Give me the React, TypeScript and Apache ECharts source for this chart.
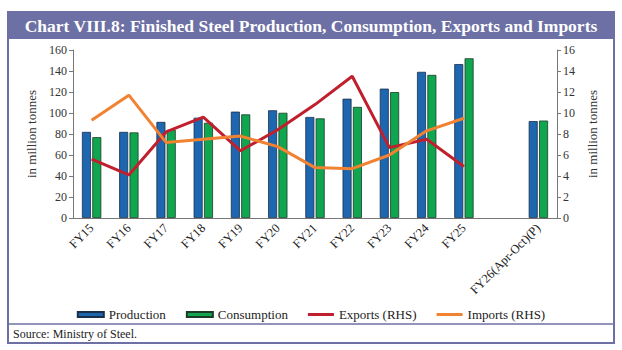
import React, { useEffect, useRef } from "react";
import * as echarts from "echarts";

const categories = ["FY15", "FY16", "FY17", "FY18", "FY19", "FY20", "FY21", "FY22", "FY23", "FY24", "FY25", "", "FY26(Apr-Oct)(P)"];
const production = [82, 82, 91.5, 95.5, 101.3, 102.6, 96.2, 113.6, 123.2, 139.2, 146.6, null, 92.3];
const consumption = [77, 81.5, 84, 90.7, 98.7, 100.2, 94.9, 105.8, 119.9, 136.3, 152.1, null, 92.8];
const exportsRhs = [5.6, 4.1, 8.2, 9.6, 6.4, 8.4, 10.8, 13.5, 6.7, 7.5, 4.9, null, null];
const importsRhs = [9.3, 11.7, 7.2, 7.5, 7.8, 6.8, 4.8, 4.7, 6.0, 8.3, 9.5, null, null];
const leftTicks = { min: 0, max: 160, interval: 20 };
const rightTicks = { min: 0, max: 16, interval: 2 };

const FONT = "'Liberation Serif', 'DejaVu Serif', serif";
const FRAME = "#6c70a4";
const LINE_ICON = "path://M0,0h26v0h-26z M0,1h26v3h-26z M0,5h26v0h-26z";

export default function App() {
  const ref = useRef<HTMLDivElement>(null);
  useEffect(() => {
    if (!ref.current) return;
    const chart = echarts.init(ref.current, null, { renderer: "svg" });
    chart.setOption({
      animation: false,
      textStyle: { fontFamily: FONT },
      graphic: [
        { type: "rect", shape: { x: 8, y: 12, width: 606, height: 331 }, style: { fill: "none", stroke: FRAME, lineWidth: 2 }, z: 10 },
        { type: "rect", shape: { x: 8, y: 12, width: 606, height: 27 }, style: { fill: FRAME }, z: 11 },
        { type: "line", shape: { x1: 8, y1: 324, x2: 614, y2: 324 }, style: { stroke: FRAME, lineWidth: 1.5 }, z: 10 },
        {
          type: "text", x: 311, y: 26, z: 12,
          style: { text: "Chart VIII.8: Finished Steel Production, Consumption, Exports and Imports", fill: "#ffffff", font: `bold 17.5px ${FONT}`, align: "center", verticalAlign: "middle" },
        },
        {
          type: "text", x: 13, y: 334, z: 12,
          style: { text: "Source: Ministry of Steel.", fill: "#222", font: `12px ${FONT}`, align: "left", verticalAlign: "middle" },
        },
      ],
      legend: {
        bottom: 24,
        left: "center",
        itemWidth: 26,
        itemHeight: 5,
        itemGap: 20,
        textStyle: { fontFamily: FONT, fontSize: 13, color: "#222" },
        data: [
          { name: "Production", icon: "rect" },
          { name: "Consumption", icon: "rect" },
          { name: "Exports (RHS)", icon: LINE_ICON },
          { name: "Imports (RHS)", icon: LINE_ICON },
        ],
      },
      grid: { left: 73, right: 65, top: 50, bottom: 132 },
      xAxis: {
        type: "category",
        data: categories,
        axisLine: { lineStyle: { color: "#777" } },
        axisTick: { show: false },
        axisLabel: { rotate: 45, interval: 0, fontFamily: FONT, fontSize: 12.5, color: "#222", margin: 8 },
      },
      yAxis: [
        {
          type: "value", ...leftTicks,
          name: "in million tonnes", nameLocation: "middle", nameGap: 34,
          nameTextStyle: { fontFamily: FONT, fontSize: 13, color: "#333" },
          axisLine: { show: true, lineStyle: { color: "#777" } },
          axisTick: { show: true, inside: false, length: 4 },
          splitLine: { show: false },
          axisLabel: { fontFamily: FONT, fontSize: 12, color: "#333", margin: 6 },
        },
        {
          type: "value", ...rightTicks,
          name: "in million tonnes", nameLocation: "middle", nameGap: 27,
          nameRotate: 90,
          nameTextStyle: { fontFamily: FONT, fontSize: 13, color: "#333" },
          axisLine: { show: true, lineStyle: { color: "#777" } },
          axisTick: { show: true, length: 4 },
          splitLine: { show: false },
          axisLabel: { fontFamily: FONT, fontSize: 12, color: "#333", margin: 6 },
        },
      ],
      series: [
        {
          name: "Production", type: "bar", data: production, barWidth: 9, barGap: "15%",
          itemStyle: { color: "#1d66b0", borderColor: "#1b2f4a", borderWidth: 0.8 },
        },
        {
          name: "Consumption", type: "bar", data: consumption, barWidth: 9,
          itemStyle: { color: "#10a650", borderColor: "#1b3a28", borderWidth: 0.8 },
        },
        {
          name: "Exports (RHS)", type: "line", yAxisIndex: 1, data: exportsRhs, symbol: "none",
          lineStyle: { color: "#c0202e", width: 3 }, itemStyle: { color: "#c0202e" },
        },
        {
          name: "Imports (RHS)", type: "line", yAxisIndex: 1, data: importsRhs, symbol: "none",
          lineStyle: { color: "#f08232", width: 3 }, itemStyle: { color: "#f08232" },
        },
      ],
    });
    return () => chart.dispose();
  }, []);
  return <div ref={ref} style={{ position: "absolute", left: 0, top: 0, width: 622, height: 350, background: "#fff" }} />;
}
